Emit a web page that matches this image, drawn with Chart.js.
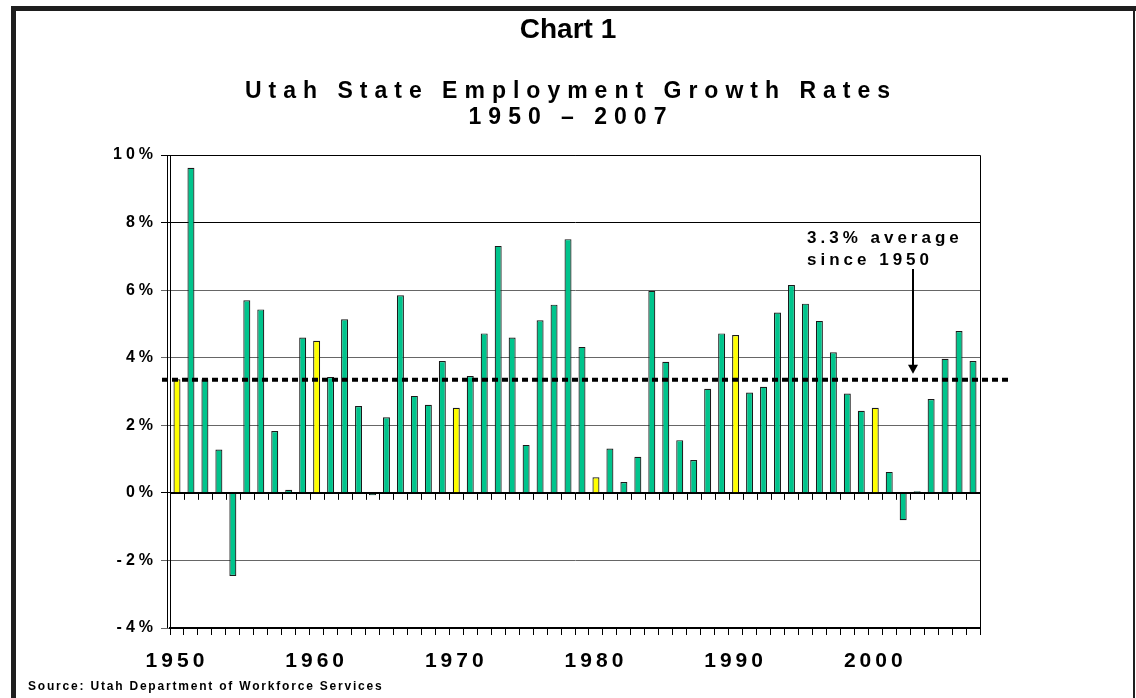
<!DOCTYPE html>
<html>
<head>
<meta charset="utf-8">
<script src="https://cdn.jsdelivr.net/npm/chart.js@4.4.1/dist/chart.umd.min.js"></script>
<style>
html,body{margin:0;padding:0;background:#fff;}
#wrap{position:relative;width:1136px;height:698px;}
</style>
</head>
<body>
<div id="wrap"><canvas id="c"></canvas></div>
<script>
// ---- data ----
const years = ['1950','1951','1952','1953','1954','1955','1956','1957','1958','1959',
  '1960','1961','1962','1963','1964','1965','1966','1967','1968','1969',
  '1970','1971','1972','1973','1974','1975','1976','1977','1978','1979',
  '1980','1981','1982','1983','1984','1985','1986','1987','1988','1989',
  '1990','1991','1992','1993','1994','1995','1996','1997','1998','1999',
  '2000','2001','2002','2003','2004','2005','2006','2007'];
const growthRates = [3.36, 9.62, 3.36, 1.28, -2.46, 5.70, 5.43, 1.83, 0.09, 4.60,
  4.50, 3.43, 5.14, 2.57, -0.07, 2.24, 5.85, 2.87, 2.61, 3.90,
  2.52, 3.46, 4.72, 7.31, 4.60, 1.42, 5.11, 5.57, 7.51, 4.32,
  0.46, 1.31, 0.32, 1.07, 5.98, 3.88, 1.56, 0.97, 3.08, 4.72,
  4.67, 2.97, 3.14, 5.34, 6.15, 5.60, 5.09, 4.16, 2.94, 2.43,
  2.52, 0.62, -0.81, 0.05, 2.78, 3.97, 4.79, 3.90];
const highlightYears = ['1950','1960','1970','1980','1990','2000'];
const xTickLabels = ['1950','1960','1970','1980','1990','2000'];
const yTickValues = [-4, -2, 0, 2, 4, 6, 8, 10];
const averageRate = 3.35;
const chartLabel = 'Chart 1';
const titleLines = ['Utah State Employment Growth Rates', '1950 \u2013 2007'];
const noteLines = ['3.3% average', 'since 1950'];
const sourceText = 'Source: Utah Department of Workforce Services';

const FONT = '"Liberation Sans", Arial, sans-serif';
const barColors = years.map(y => highlightYears.includes(y) ? '#ffff00' : '#00c48c');

const decor = {
  id: 'decor',
  beforeDraw(chart) {
    const ctx = chart.ctx;
    ctx.fillStyle = '#fff';
    ctx.fillRect(0, 0, chart.width, chart.height);
    ctx.letterSpacing = '4px';
  },
  afterDraw(chart) {
    const ctx = chart.ctx;
    const a = chart.chartArea;
    const ys = chart.scales.y;
    ctx.save();
    ctx.setLineDash([]);
    // outer frame
    ctx.fillStyle = '#1e1e1e';
    ctx.fillRect(11, 6, 1125, 5);
    ctx.fillRect(11, 6, 5, 692);
    ctx.fillRect(1133, 6, 2, 692);
    // plot frame
    ctx.strokeStyle = '#000';
    ctx.lineWidth = 1;
    ctx.beginPath();
    ctx.moveTo(a.left, a.top + 0.5); ctx.lineTo(a.right + 0.5, a.top + 0.5);
    ctx.lineTo(a.right + 0.5, a.bottom);
    ctx.moveTo(a.left - 2.5, a.top); ctx.lineTo(a.left - 2.5, a.bottom);
    ctx.stroke();
    // ticks under the zero line
    const y0 = ys.getPixelForValue(0);
    const n = years.length;
    const step = (a.right - a.left) / n;
    ctx.beginPath();
    ctx.lineWidth = 1;
    ctx.moveTo(a.left, Math.round(y0) + 0.5); ctx.lineTo(a.right, Math.round(y0) + 0.5);
    for (let i = 0; i <= n; i++) {
      const xb = Math.round(a.left + i * step) + 0.5;
      ctx.moveTo(xb, y0); ctx.lineTo(xb, y0 + 7);
    }
    ctx.stroke();
    // average line
    const yAvg = ys.getPixelForValue(averageRate);
    ctx.setLineDash([6, 4]);
    ctx.lineWidth = 4;
    ctx.beginPath();
    ctx.moveTo(a.left - 8, yAvg); ctx.lineTo(a.right + 28, yAvg);
    ctx.stroke();
    ctx.setLineDash([]);
    // arrow
    const ax = 913;
    ctx.lineWidth = 2;
    ctx.beginPath();
    ctx.moveTo(ax, 269); ctx.lineTo(ax, yAvg - 12);
    ctx.stroke();
    ctx.fillStyle = '#000';
    ctx.beginPath();
    ctx.moveTo(ax - 5, yAvg - 15); ctx.lineTo(ax + 5, yAvg - 15); ctx.lineTo(ax, yAvg - 6);
    ctx.closePath(); ctx.fill();
    // texts
    ctx.fillStyle = '#000';
    ctx.textBaseline = 'middle';
    ctx.textAlign = 'center';
    ctx.letterSpacing = '0px';
    ctx.font = 'bold 28px ' + FONT;
    ctx.fillText(chartLabel, 568, 30);
    ctx.letterSpacing = '7px';
    ctx.font = 'bold 23px ' + FONT;
    ctx.fillText(titleLines[0], 571, 92);
    ctx.fillText(titleLines[1], 571, 118);
    ctx.textAlign = 'left';
    ctx.letterSpacing = '4px';
    ctx.font = 'bold 17px ' + FONT;
    ctx.fillText(noteLines[0], 807, 238);
    ctx.fillText(noteLines[1], 807, 260);
    ctx.letterSpacing = '1.8px';
    ctx.font = 'bold 12px ' + FONT;
    ctx.fillText(sourceText, 28, 687);
    ctx.restore();
  }
};

new Chart(document.getElementById('c'), {
  type: 'bar',
  data: {
    labels: years,
    datasets: [{
      data: growthRates,
      backgroundColor: barColors,
      borderColor: '#1a1a1a',
      borderWidth: 1.2,
      barPercentage: 0.5,
      categoryPercentage: 1.0
    }]
  },
  options: {
    responsive: true,
    maintainAspectRatio: false,
    animation: false,
    layout: { padding: { top: 155, right: 156, left: 0, bottom: 0 } },
    plugins: { legend: { display: false }, tooltip: { enabled: false }, title: { display: false } },
    scales: {
      x: {
        afterFit: s => { s.height = 70; },
        grid: { display: true, drawOnChartArea: false, offset: true, tickLength: 7, color: '#000', lineWidth: 1 },
        border: { display: true, color: '#000', width: 2 },
        ticks: {
          autoSkip: false, maxRotation: 0, minRotation: 0, padding: 14,
          color: '#000', font: { family: FONT, size: 21, weight: 'bold' },
          callback: function(v) { const l = this.getLabelForValue(v); return xTickLabels.includes(l) ? l : ''; }
        }
      },
      y: {
        min: -4, max: 10,
        afterFit: s => { s.width = 170; },
        afterBuildTicks: s => { s.ticks = yTickValues.map(v => ({ value: v })); },
        grid: {
          tickLength: 9,
          color: ctx => (ctx.tick && (ctx.tick.value === 0 || ctx.tick.value >= 8)) ? '#000' : '#666',
          lineWidth: 1
        },
        border: { display: true, color: '#000', width: 1 },
        ticks: {
          padding: 4, color: '#000',
          font: { family: FONT, size: 16, weight: 'bold' },
          callback: v => v + '%'
        }
      }
    }
  },
  plugins: [decor]
});
</script>
</body>
</html>
